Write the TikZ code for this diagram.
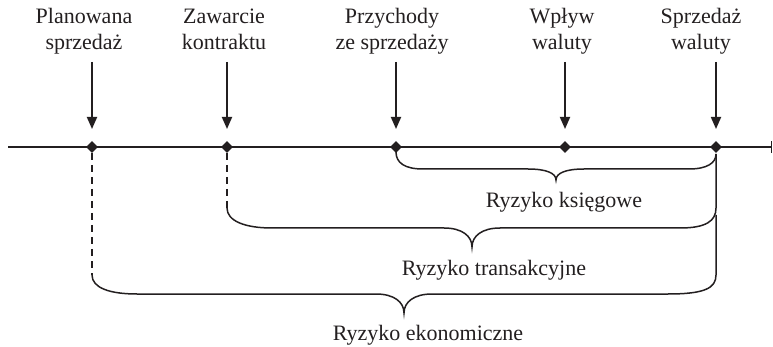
\documentclass[tikz,border=0pt]{standalone}
\usepackage{fontspec}
\setmainfont{Liberation Serif}
\usetikzlibrary{shapes.geometric,arrows.meta}
\definecolor{ink}{HTML}{231F20}
\begin{document}
\begin{tikzpicture}[x=1pt,y=-1pt,
  lbl/.style={font=\fontsize{22}{25.3}\selectfont, align=center, anchor=base, inner sep=0pt, text=ink},
  rlbl/.style={font=\fontsize{22}{25.3}\selectfont, anchor=base, inner sep=0pt, text=ink},
  dia/.style={diamond, fill=ink, draw=none, inner sep=0pt, minimum width=12pt, minimum height=12pt},
  axisline/.style={draw=ink, line width=2pt},
  arr/.style={draw=ink, line width=1.8pt, -{Triangle[length=12pt,width=10pt]}},
  brace/.style={draw=ink, line width=1.5pt},
  dleg/.style={draw=ink, line width=1.5pt, dash pattern=on 7pt off 5pt}]
\useasboundingbox (0,0) rectangle (773,347);

% axis
\coordinate (axL) at (8,147);
\coordinate (axR) at (771,147);
\draw[axisline] (axL) -- (axR);
\draw[draw=ink, line width=1pt] ([yshift=-6pt]axR) -- ([yshift=6pt]axR);

% labels
\node[lbl] (l1) at (84,49.3) {Planowana\\sprzedaż};
\node[lbl] (l2) at (224,49.3) {Zawarcie\\kontraktu};
\node[lbl] (l3) at (392,49.3) {Przychody\\ze sprzedaży};
\node[lbl] (l4) at (562,49.3) {Wpływ\\waluty};
\node[lbl] (l5) at (701,49.3) {Sprzedaż\\waluty};

% arrows
\foreach \i/\x in {1/92,2/227,3/396,4/565,5/716}{
  \coordinate (s\i) at (\x,62);
  \coordinate (e\i) at (\x,129);
  \draw[arr] (s\i) -- (e\i);
}

% brace 1: Ryzyko ksiegowe
\draw[brace] (396,152) .. controls (396,163) and (405,169) .. (423,169) -- (528,169)
  .. controls (546,169) and (556,173) .. (556,180)
  .. controls (556,173) and (566,169) .. (584,169) -- (689,169)
  .. controls (707,169) and (716,163) .. (716,154);
\node[rlbl] (r1) at (564,208) {Ryzyko księgowe};

% brace 2: Ryzyko transakcyjne
\draw[dleg] (227,153) -- (227,208);
\draw[brace] (227,208) .. controls (227,221) and (245,228) .. (272,228) -- (444,228)
  .. controls (462,228) and (472,236) .. (472,247)
  .. controls (472,236) and (482,228) .. (500,228) -- (680,228)
  .. controls (706,228) and (716,221) .. (716,208) -- (716,154);
\node[rlbl] (r2) at (494,275) {Ryzyko transakcyjne};

% brace 3: Ryzyko ekonomiczne
\draw[dleg] (92,153) -- (92,275);
\draw[brace] (92,275) .. controls (92,288) and (110,294) .. (137,294) -- (376,294)
  .. controls (394,294) and (404,302) .. (404,313)
  .. controls (404,302) and (414,294) .. (432,294) -- (668,294)
  .. controls (705,294) and (716,288) .. (716,275) -- (716,215);
\node[rlbl] (r3) at (428,340) {Ryzyko ekonomiczne};

% points
\node[dia] (d1) at (92,147) {};
\node[dia] (d2) at (227,147) {};
\node[dia] (d3) at (396,147) {};
\node[dia] (d4) at (565,147) {};
\node[dia] (d5) at (716,147) {};
\end{tikzpicture}
\end{document}
